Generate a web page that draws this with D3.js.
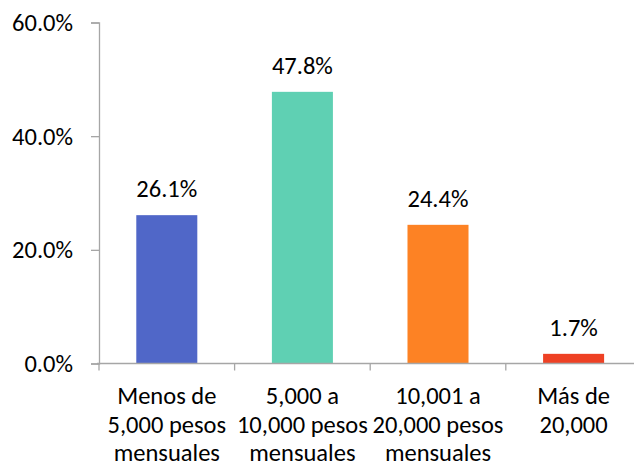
<!DOCTYPE html>
<html lang="es">
<meta charset="utf-8">
<title>Ingreso mensual</title>
<style>
    body { margin: 0; background: #fff; }
    text { font-family: Calibri, Carlito, "Open Sans", sans-serif; fill: #000; }
</style>
<body>
<svg id="chart"></svg>
<script src="https://cdn.jsdelivr.net/npm/d3@7"></script>
<script>
    /////////////// data ///////////////
    var categories = [
        ["Menos de", "5,000 pesos", "mensuales"],
        ["5,000 a", "10,000 pesos", "mensuales"],
        ["10,001 a", "20,000 pesos", "mensuales"],
        ["Más de", "20,000"]
    ];
    var values  = [26.1, 47.8, 24.4, 1.7];
    var colors  = ["#5067C8", "#5FD0B3", "#FD8224", "#EE4124"];
    var y_ticks = [0, 20, 40, 60];

    /////////////// layout ///////////////
    var width  = 634, height = 463;
    var x_left = 99, x_right = 641.4;
    var y_top  = 22.5, y_bot = 363.5;
    var axis_color = "#A6A6A6";
    var font_family = 'Calibri, Carlito, "Open Sans", sans-serif';
    var font_size  = 24.5;

    var svg = d3.select("#chart")
        .attr("width", width)
        .attr("height", height);

    var keys = categories.map(function (c) { return c.join(" "); });

    var x = d3.scaleBand()
        .domain(keys)
        .range([x_left, x_right])
        .paddingInner(0.55)
        .paddingOuter(0.275);

    var y = d3.scaleLinear()
        .domain([0, 60])
        .range([y_bot, y_top]);

    // y axis
    var yAxis = svg.append("g")
        .attr("transform", "translate(" + x_left + ",0)")
        .call(d3.axisLeft(y).tickValues(y_ticks).tickSize(8).tickPadding(18)
            .tickFormat(function (d) { return d.toFixed(1) + "%"; }));
    yAxis.select(".domain").attr("stroke", axis_color).attr("stroke-width", 1.3);
    yAxis.selectAll(".tick line").attr("stroke", axis_color).attr("stroke-width", 1.3);
    yAxis.selectAll(".tick text")
        .attr("font-size", font_size)
        .attr("font-family", font_family)
        .attr("fill", "#000");

    // bars
    svg.selectAll("rect.bar")
        .data(values)
        .enter().append("rect")
        .attr("class", "bar")
        .attr("x", function (d, i) { return x(keys[i]); })
        .attr("width", x.bandwidth())
        .attr("y", function (d) { return y(d); })
        .attr("height", function (d) { return y(0) - y(d); })
        .attr("fill", function (d, i) { return colors[i]; });

    // value labels
    svg.selectAll("text.val")
        .data(values)
        .enter().append("text")
        .attr("class", "val")
        .attr("x", function (d, i) { return x(keys[i]) + x.bandwidth() / 2; })
        .attr("y", function (d) { return y(d) - 18; })
        .attr("text-anchor", "middle")
        .attr("font-size", font_size)
        .text(function (d) { return d.toFixed(1) + "%"; });

    // x axis: category boundary ticks
    var bounds = keys.map(function (k) { return x(k) - x.step() * x.paddingInner() / 2; });
    bounds.push(x_right);
    var xAxis = svg.append("g");
    xAxis.append("line")
        .attr("x1", x_left - 2).attr("x2", x_right)
        .attr("y1", y_bot).attr("y2", y_bot)
        .attr("stroke", axis_color).attr("stroke-width", 1.3);
    xAxis.selectAll("line.tk")
        .data(bounds)
        .enter().append("line")
        .attr("class", "tk")
        .attr("x1", function (d) { return d; }).attr("x2", function (d) { return d; })
        .attr("y1", y_bot).attr("y2", y_bot + 7)
        .attr("stroke", axis_color).attr("stroke-width", 1.3);

    // category labels
    var cat = svg.selectAll("text.cat")
        .data(categories)
        .enter().append("text")
        .attr("class", "cat")
        .attr("text-anchor", "middle")
        .attr("font-size", font_size)
        .attr("x", function (d, i) { return x(keys[i]) + x.bandwidth() / 2; });
    cat.selectAll("tspan")
        .data(function (d) { return d; })
        .enter().append("tspan")
        .attr("x", function () { return d3.select(this.parentNode).attr("x"); })
        .attr("y", function (d, j) { return 404 + j * 28.5; })
        .text(function (d) { return d; });
</script>
</body>
</html>
